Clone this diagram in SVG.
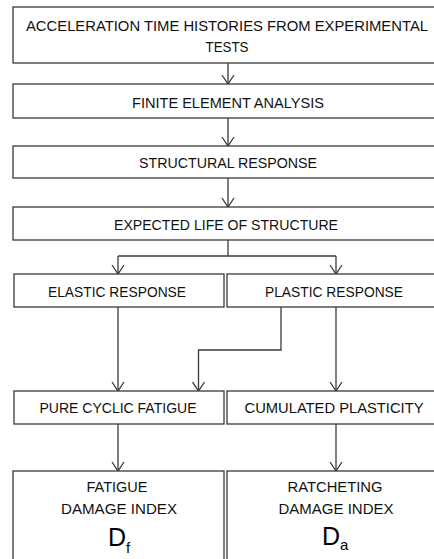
<svg xmlns="http://www.w3.org/2000/svg" width="434" height="559" viewBox="0 0 434 559">
<defs>
<style>
.box{fill:#fff;stroke:#3a3a3a;stroke-width:1.3}
.t{font-family:"Liberation Sans",Arial,sans-serif;font-size:14px;fill:#111;text-anchor:middle}
.big{font-family:"Liberation Sans",Arial,sans-serif;font-size:25px;fill:#000}
.sub{font-family:"Liberation Sans",Arial,sans-serif;font-size:15px;fill:#000}
.c{fill:none;stroke:#3a3a3a;stroke-width:1.3}
</style>
<marker id="ah" viewBox="0 0 12 14" refX="10" refY="7" markerWidth="12" markerHeight="14" markerUnits="userSpaceOnUse" orient="auto">
<path d="M1,1 L10,7 L1,13" fill="none" stroke="#3a3a3a" stroke-width="1.3"/>
</marker>
</defs>
<rect width="434" height="559" fill="#fff"/>
<g id="connectors">
<line class="c" x1="228" y1="63" x2="228" y2="84" marker-end="url(#ah)"/>
<line class="c" x1="228" y1="118" x2="228" y2="146" marker-end="url(#ah)"/>
<line class="c" x1="228" y1="178" x2="228" y2="207" marker-end="url(#ah)"/>
<polyline class="c" points="228,240 228,256"/>
<polyline class="c" points="118,256 336,256"/>
<polyline class="c" points="118,256 118,274" marker-end="url(#ah)"/>
<polyline class="c" points="336,256 336,274" marker-end="url(#ah)"/>
<line class="c" x1="118" y1="307" x2="118" y2="391" marker-end="url(#ah)"/>
<polyline class="c" points="281,307 281,350 198.5,350 198.5,391" marker-end="url(#ah)"/>
<line class="c" x1="336" y1="307" x2="336" y2="391" marker-end="url(#ah)"/>
<line class="c" x1="118" y1="424" x2="118" y2="471" marker-end="url(#ah)"/>
<line class="c" x1="336" y1="424" x2="336" y2="471" marker-end="url(#ah)"/>
</g>
<g id="n1">
<rect class="box" x="13" y="7" width="430" height="56"/>
<text class="t" x="227" y="31" textLength="402" lengthAdjust="spacingAndGlyphs">ACCELERATION TIME HISTORIES FROM EXPERIMENTAL</text>
<text class="t" x="227" y="52" textLength="43" lengthAdjust="spacingAndGlyphs">TESTS</text>
</g>
<g id="n2">
<rect class="box" x="13" y="84" width="430" height="34"/>
<text class="t" x="228" y="108" textLength="192" lengthAdjust="spacingAndGlyphs">FINITE ELEMENT ANALYSIS</text>
</g>
<g id="n3">
<rect class="box" x="13" y="146" width="430" height="32"/>
<text class="t" x="228" y="168" textLength="178" lengthAdjust="spacingAndGlyphs">STRUCTURAL RESPONSE</text>
</g>
<g id="n4">
<rect class="box" x="13" y="207" width="430" height="33"/>
<text class="t" x="226" y="230" textLength="224" lengthAdjust="spacingAndGlyphs">EXPECTED LIFE OF STRUCTURE</text>
</g>
<g id="n5">
<rect class="box" x="14" y="274" width="210" height="33"/>
<text class="t" x="117" y="297" textLength="138" lengthAdjust="spacingAndGlyphs">ELASTIC RESPONSE</text>
</g>
<g id="n6">
<rect class="box" x="227" y="274" width="220" height="33"/>
<text class="t" x="334" y="297" textLength="138" lengthAdjust="spacingAndGlyphs">PLASTIC RESPONSE</text>
</g>
<g id="n7">
<rect class="box" x="14" y="391" width="210" height="33"/>
<text class="t" x="118" y="413" textLength="157" lengthAdjust="spacingAndGlyphs">PURE CYCLIC FATIGUE</text>
</g>
<g id="n8">
<rect class="box" x="227" y="391" width="220" height="33"/>
<text class="t" x="334" y="413" textLength="179" lengthAdjust="spacingAndGlyphs">CUMULATED PLASTICITY</text>
</g>
<g id="n9">
<rect class="box" x="13" y="471" width="211" height="100"/>
<text class="t" x="117" y="492" textLength="61" lengthAdjust="spacingAndGlyphs">FATIGUE</text>
<text class="t" x="119" y="514" textLength="116" lengthAdjust="spacingAndGlyphs">DAMAGE INDEX</text>
<text class="big" x="108" y="546">D<tspan class="sub" dy="7">f</tspan></text>
</g>
<g id="n10">
<rect class="box" x="227" y="471" width="220" height="100"/>
<text class="t" x="335" y="492" textLength="95" lengthAdjust="spacingAndGlyphs">RATCHETING</text>
<text class="t" x="336" y="514" textLength="115" lengthAdjust="spacingAndGlyphs">DAMAGE INDEX</text>
<text class="big" x="322" y="545">D<tspan class="sub" dy="5">a</tspan></text>
</g>
</svg>
